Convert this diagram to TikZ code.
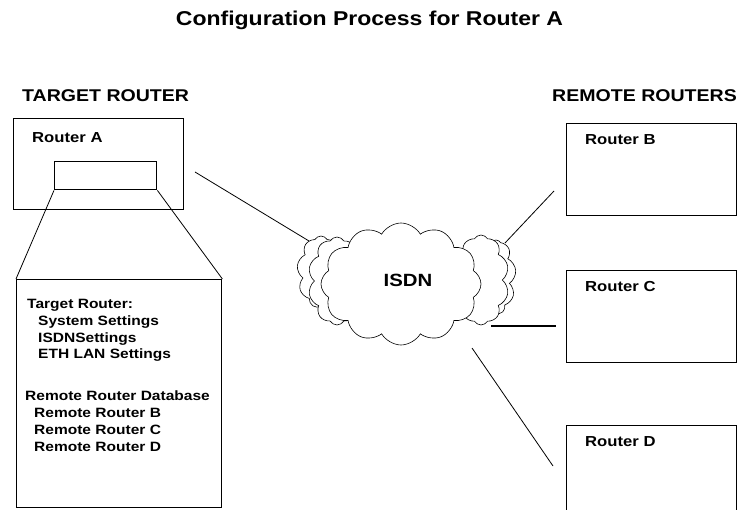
\documentclass[tikz,border=0pt]{standalone}
\usepackage{fontspec}
\setmainfont[FakeStretch=1.15]{Liberation Sans}
\usetikzlibrary{shapes.symbols}

\begin{document}
\begin{tikzpicture}[x=1pt,y=-1pt,
  frame/.style={draw, line width=1.4pt, inner sep=0pt, anchor=north west},
  heading/.style={font=\bfseries\fontsize{17}{20}\selectfont, anchor=base west, inner sep=0pt},
  rlabel/.style={font=\bfseries\fontsize{14.5}{17}\selectfont, anchor=base west, inner sep=0pt},
  entry/.style={font=\bfseries\fontsize{13.5}{16}\selectfont, anchor=base west, inner sep=0pt},
  link/.style={line width=0.8pt},
  puff/.style={cloud, draw, fill=white, line width=0.6pt, inner sep=0pt, cloud puff arc=120}]
\useasboundingbox (0,0) rectangle (745,510);
\clip (0,0) rectangle (745,510);

% title and column headings
\node[font=\bfseries\fontsize{20}{24}\selectfont, anchor=base, inner sep=0pt] (title) at (369.5,26) {Configuration Process for Router A};
\node[heading] (tgt) at (22,102) {TARGET ROUTER};
\node[heading] (rem) at (552,102) {REMOTE ROUTERS};

% target router with its configuration detail
\node[frame, minimum width=170pt, minimum height=91pt] (rA) at (13,118) {};
\node[rlabel] (rAl) at (32,143) {Router A};
\node[frame, minimum width=102pt, minimum height=28pt] (cfg) at (54,161) {};
\node[frame, minimum width=205pt, minimum height=228pt] (detail) at (16,279) {};
\draw[link] (cfg.south west) -- (detail.north west);
\draw[link] (cfg.south east) -- (detail.north east);

\node[entry] (e1) at (27,309) {Target Router:};
\node[entry] (e2) at (38,326) {System Settings};
\node[entry] (e3) at (38,343) {ISDNSettings};
\node[entry] (e4) at (38,359) {ETH LAN Settings};
\node[entry] (e5) at (25,401) {Remote Router Database};
\node[entry] (e6) at (34,418) {Remote Router B};
\node[entry] (e7) at (34,435) {Remote Router C};
\node[entry] (e8) at (34,452) {Remote Router D};

% remote routers
\node[frame, minimum width=170pt, minimum height=92pt] (rB) at (566,123) {};
\node[rlabel] (rBl) at (585,145) {Router B};
\node[frame, minimum width=170pt, minimum height=92pt] (rC) at (566,270) {};
\node[rlabel] (rCl) at (585,292) {Router C};
\node[frame, minimum width=170pt, minimum height=100pt] (rD) at (566,425) {};
\node[rlabel] (rDl) at (585,447) {Router D};

% ISDN cloud, small puffs behind the main one
\node[puff, cloud puffs=9, minimum width=48pt, minimum height=72pt] (cl1) at (321,272) {};
\node[puff, cloud puffs=10, minimum width=58pt, minimum height=88pt] (cl2) at (337,281) {};
\node[puff, cloud puffs=9, minimum width=40pt, minimum height=74pt] (cr1) at (496,277) {};
\node[puff, cloud puffs=10, minimum width=56pt, minimum height=90pt] (cr2) at (481,280) {};
\node[puff, cloud puffs=12, minimum width=160pt, minimum height=122pt] (isdn) at (401,284) {};
\node[font=\bfseries\fontsize{17.7}{20}\selectfont, inner sep=0pt, anchor=base] (isdnl) at (408,287) {ISDN};

% links between the routers and the cloud
\coordinate (a1) at (195,172);
\coordinate (a2) at (309,241);
\coordinate (b1) at (505,243);
\coordinate (b2) at (554,191);
\coordinate (c1) at (491,326);
\coordinate (c2) at (556,326);
\coordinate (d1) at (472,348);
\coordinate (d2) at (553,466);
\draw[link] (a1) -- (a2);
\draw[link] (b1) -- (b2);
\draw[line width=1.3pt] (c1) -- (c2);
\draw[link] (d1) -- (d2);
\end{tikzpicture}
\end{document}
